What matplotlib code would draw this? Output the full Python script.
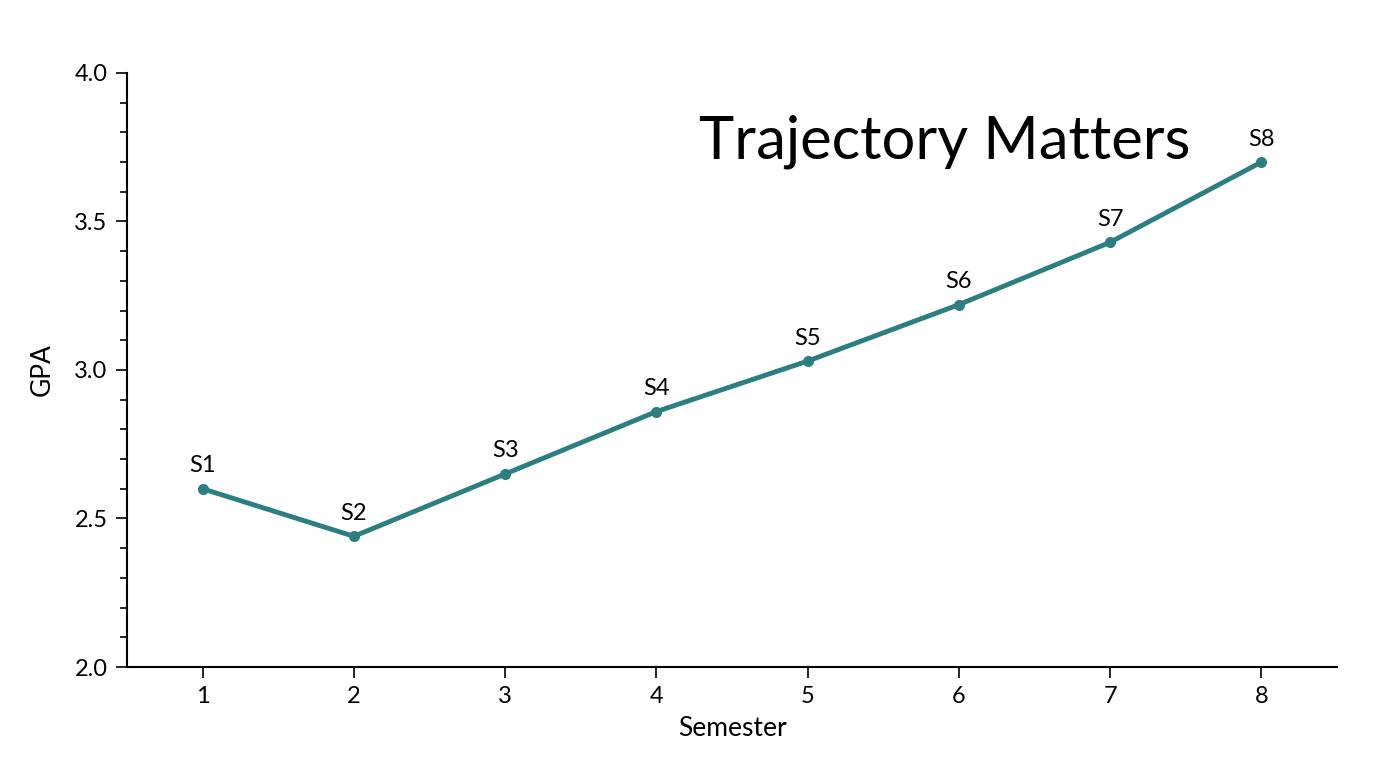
import matplotlib
matplotlib.use("Agg")
import matplotlib.pyplot as plt
from matplotlib.ticker import MultipleLocator

semesters = [1, 2, 3, 4, 5, 6, 7, 8]
gpa = [2.60, 2.44, 2.65, 2.86, 3.03, 3.22, 3.43, 3.70]
labels = ["S1", "S2", "S3", "S4", "S5", "S6", "S7", "S8"]

plt.rcParams['font.family'] = ['Lato', 'DejaVu Sans']
color = "#2b7f80"

fig = plt.figure(figsize=(13.76, 7.68), dpi=100)
ax = fig.add_axes([0.0923, 0.1315, 0.8794, 0.7735])
ax.plot(semesters, gpa, color=color, lw=3.5, marker='o', ms=7)
for x, y, t in zip(semesters, gpa, labels):
    ax.annotate(t, (x, y), xytext=(0, 9), textcoords='offset points',
                ha='center', va='bottom', fontsize=17)

ax.set_xlim(0.5, 8.5)
ax.set_ylim(2.0, 4.0)
ax.set_xticks(semesters)
ax.yaxis.set_major_locator(MultipleLocator(0.5))
ax.yaxis.set_minor_locator(MultipleLocator(0.1))
ax.tick_params(labelsize=17, length=8, width=1.2, pad=6)
ax.tick_params(which='minor', length=5, width=1.2)
for s in ['top', 'right']:
    ax.spines[s].set_visible(False)
for s in ['left', 'bottom']:
    ax.spines[s].set_linewidth(1.5)
ax.set_xlabel("Semester", fontsize=19, labelpad=6)
ax.set_ylabel("GPA", fontsize=19, labelpad=14)
ax.text(0.676, 0.885, "Trajectory Matters", transform=ax.transAxes,
        ha='center', va='center', fontsize=43)

fig.savefig("out.png", dpi=100)
